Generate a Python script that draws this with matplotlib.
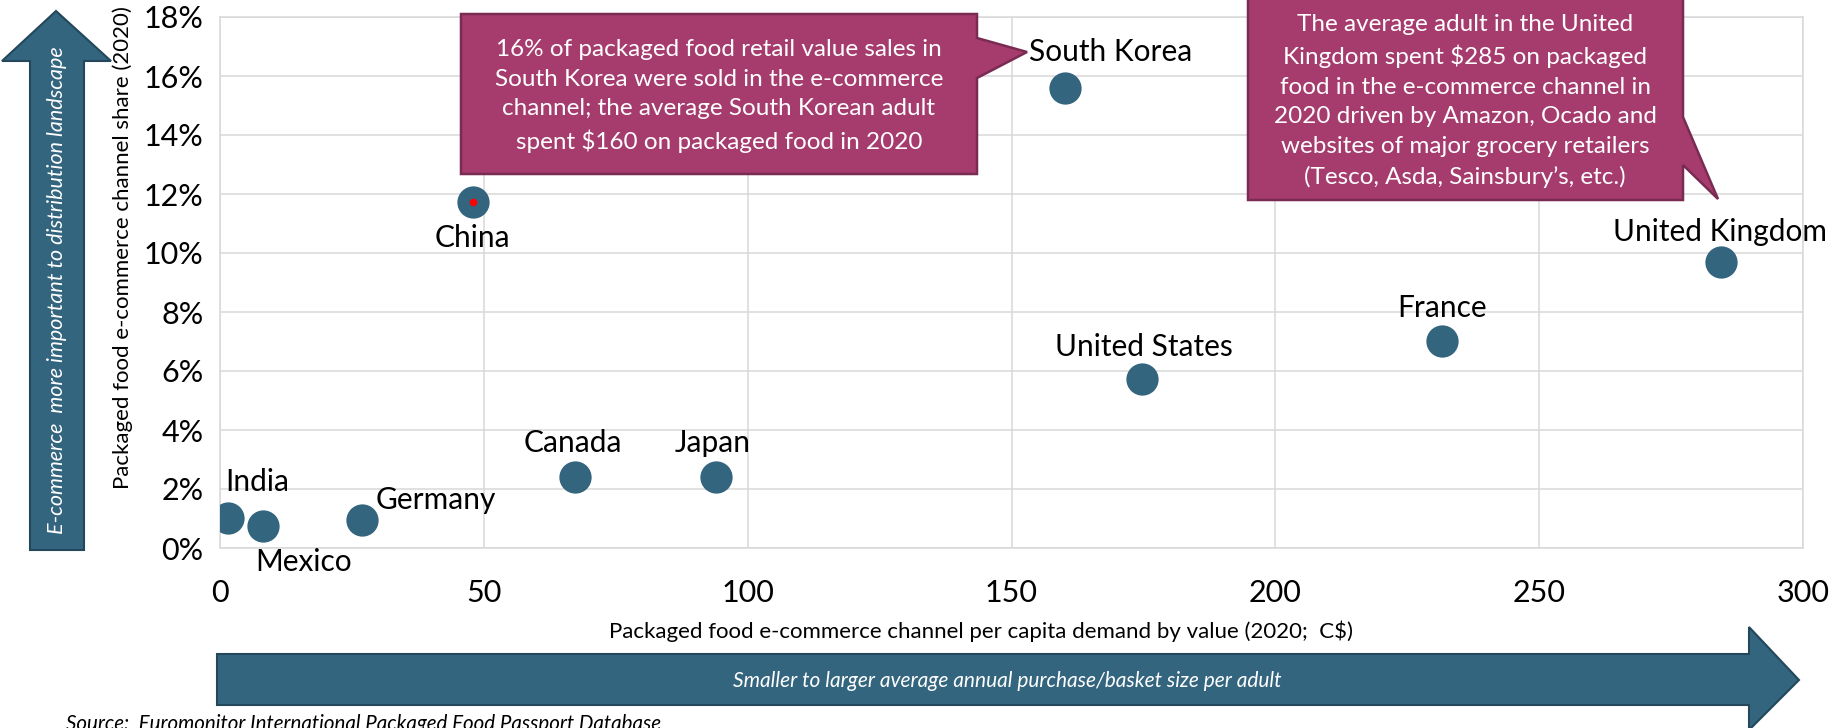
import numpy as np
import matplotlib
matplotlib.use("Agg")
import matplotlib.pyplot as plt
from matplotlib.patches import Polygon
from matplotlib.ticker import PercentFormatter

plt.rcParams['font.family'] = ['Lato', 'DejaVu Sans']

# Data
countries = ['India', 'Mexico', 'Germany', 'Canada', 'Japan', 'China',
             'South Korea', 'United States', 'France', 'United Kingdom']
per_capita = [1.5, 8.2, 26.9, 67.3, 94.0, 47.9, 160.1, 174.7, 231.6, 284.4]
ecom_share = [1.02, 0.75, 0.95, 2.41, 2.41, 11.73, 15.6, 5.73, 7.02, 9.7]

x_ticks = [0, 50, 100, 150, 200, 250, 300]
y_ticks = [0, 2, 4, 6, 8, 10, 12, 14, 16, 18]

# label offsets in pixels (right, down) from each point
label_offsets = [(29, -36), (40, 36), (74, -20), (-2, -34), (-3, -34), (0, 36),
                 (46, -36), (2, -32), (0, -33), (-1, -30)]

note_korea = ("16% of packaged food retail value sales in\n"
              "South Korea were sold in the e-commerce\n"
              "channel; the average South Korean adult\n"
              "spent $160 on packaged food in 2020")
note_uk = ("The average adult in the United\n"
           "Kingdom spent $285 on packaged\n"
           "food in the e-commerce channel in\n"
           "2020 driven by Amazon, Ocado and\n"
           "websites of major grocery retailers\n"
           "(Tesco, Asda, Sainsbury\u2019s, etc.)")

W, H = 1832, 728
blue = '#34657f'
blue_edge = '#23475b'
purple = '#a63c6e'
purple_edge = '#7a2b52'


def px(pts):
    # pixel coords (top-left origin) -> figure fraction
    return [(x / W, 1 - y / H) for x, y in pts]


fig = plt.figure(figsize=(W / 100, H / 100), dpi=100)
ax = fig.add_axes([220 / W, 1 - 548 / H, (1803 - 220) / W, (548 - 17) / H])

ax.scatter(per_capita, ecom_share, s=540, color=blue, zorder=3, linewidths=0)
i_china = countries.index('China')
ax.scatter([per_capita[i_china]], [ecom_share[i_china]], s=30, color='red', zorder=4, linewidths=0)

for name, x, y, (dx, dy) in zip(countries, per_capita, ecom_share, label_offsets):
    ax.annotate(name, (x, y), xytext=(dx, -dy), textcoords='offset pixels',
                ha='center', va='center', fontsize=21.5, color='black', zorder=5)

ax.set_xlim(0, 300)
ax.set_ylim(0, 18)
ax.set_xticks(x_ticks)
ax.set_yticks(y_ticks)
ax.yaxis.set_major_formatter(PercentFormatter(decimals=0))
ax.tick_params(axis='both', length=0, labelsize=22)
ax.tick_params(axis='y', pad=12)
ax.tick_params(axis='x', pad=22)
ax.grid(True, color='#d9d9d9', linewidth=1.1)
ax.set_axisbelow(True)
for sp in ax.spines.values():
    sp.set_color('#d9d9d9')
    sp.set_linewidth(1.1)

fig.text(123 / W, 1 - 248 / H, 'Packaged food e-commerce channel share (2020)',
         rotation=90, ha='center', va='center', fontsize=16)
fig.text(981 / W, 1 - 631 / H,
         'Packaged food e-commerce channel per capita demand by value (2020;  C$)',
         ha='center', va='center', fontsize=16)

# vertical arrow
up_arrow = px([(30, 550), (30, 61), (2, 61), (56, 11), (111, 61), (84, 61), (84, 550)])
fig.patches.append(Polygon(up_arrow, closed=True, transform=fig.transFigure,
                           facecolor=blue, edgecolor=blue_edge, linewidth=1.5))
fig.text(57 / W, 1 - 290 / H, 'E-commerce  more important to distribution landscape',
         rotation=90, ha='center', va='center', fontsize=15.5, style='italic', color='white')

# horizontal arrow
right_arrow = px([(217, 654), (1749, 654), (1749, 627), (1799, 680), (1749, 730),
                  (1749, 705), (217, 705)])
fig.patches.append(Polygon(right_arrow, closed=True, transform=fig.transFigure,
                           facecolor=blue, edgecolor=blue_edge, linewidth=1.5))
fig.text(1007 / W, 1 - 681 / H, 'Smaller to larger average annual purchase/basket size per adult',
         ha='center', va='center', fontsize=15, style='italic', color='white')

# callouts
korea_box = px([(461, 14), (977, 14), (977, 38), (1027, 52), (977, 78), (977, 174), (461, 174)])
fig.patches.append(Polygon(korea_box, closed=True, transform=fig.transFigure,
                           facecolor=purple, edgecolor=purple_edge, linewidth=1.8, zorder=6))
fig.text(719 / W, 1 - 96 / H, note_korea, ha='center', va='center', fontsize=17.5,
         color='white', linespacing=1.5, zorder=7)

uk_box = px([(1248, -10), (1683, -10), (1683, 117), (1718, 199), (1683, 165), (1683, 200), (1248, 200)])
fig.patches.append(Polygon(uk_box, closed=True, transform=fig.transFigure,
                           facecolor=purple, edgecolor=purple_edge, linewidth=1.8, zorder=6))
fig.text(1465 / W, 1 - 101 / H, note_uk, ha='center', va='center', fontsize=17.5,
         color='white', linespacing=1.5, zorder=7)

fig.text(66 / W, 1 - 730 / H, 'Source:  Euromonitor International Packaged Food Passport Database',
         ha='left', va='baseline', fontsize=14.8, style='italic')

fig.savefig('out.png', dpi=100)
